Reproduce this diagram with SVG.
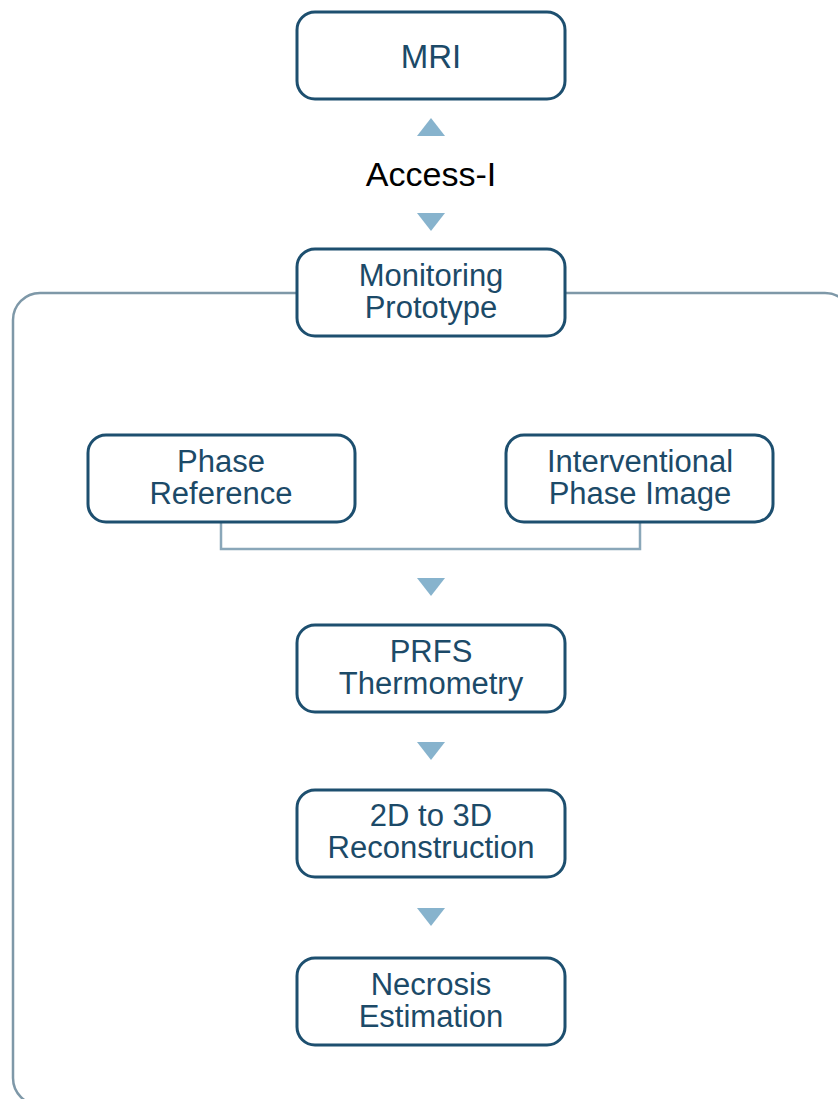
<svg xmlns="http://www.w3.org/2000/svg" width="838" height="1099" viewBox="0 0 838 1099">
<style>
.box{fill:#ffffff;stroke:#1d4f6f;stroke-width:3}
.lbl{font-family:"Liberation Sans",Arial,sans-serif;font-size:31px;fill:#1c4a68;text-anchor:middle}
.tri{fill:#87b3cd}
.conn{fill:none;stroke:#8aa7b9;stroke-width:2.5}
</style>
<rect id="container" x="13" y="293" width="839" height="812" rx="27" fill="none" stroke="#7e98a8" stroke-width="2.5"/>
<g id="connectors">
<path class="conn" d="M221,523 V549 H640 V523"/>
<polygon class="tri" points="417,136 445,136 431,118"/>
<polygon class="tri" points="417,213 445,213 431,231"/>
<polygon class="tri" points="417,578 445,578 431,596"/>
<polygon class="tri" points="417,742 445,742 431,760"/>
<polygon class="tri" points="417,908 445,908 431,926"/>
</g>
<g id="mri">
<rect class="box" x="297" y="12" width="268" height="87" rx="18"/>
<text class="lbl" x="431" y="68" style="font-size:33px">MRI</text>
</g>
<g id="access">
<text x="431" y="186" font-family="Liberation Sans,Arial,sans-serif" font-size="34" fill="#000" text-anchor="middle">Access-I</text>
</g>
<g id="monitoring">
<rect class="box" x="297" y="249" width="268" height="87" rx="18"/>
<text class="lbl" x="431" y="286">Monitoring</text>
<text class="lbl" x="431" y="318">Prototype</text>
</g>
<g id="phase-ref">
<rect class="box" x="88" y="435" width="267" height="87" rx="18"/>
<text class="lbl" x="221" y="472">Phase</text>
<text class="lbl" x="221" y="504">Reference</text>
</g>
<g id="interventional">
<rect class="box" x="506" y="435" width="267" height="87" rx="18"/>
<text class="lbl" x="640" y="472">Interventional</text>
<text class="lbl" x="640" y="504">Phase Image</text>
</g>
<g id="prfs">
<rect class="box" x="297" y="625" width="268" height="87" rx="18"/>
<text class="lbl" x="431" y="662">PRFS</text>
<text class="lbl" x="431" y="694">Thermometry</text>
</g>
<g id="recon">
<rect class="box" x="297" y="790" width="268" height="87" rx="18"/>
<text class="lbl" x="431" y="826">2D to 3D</text>
<text class="lbl" x="431" y="858">Reconstruction</text>
</g>
<g id="necrosis">
<rect class="box" x="297" y="958" width="268" height="87" rx="18"/>
<text class="lbl" x="431" y="995">Necrosis</text>
<text class="lbl" x="431" y="1027">Estimation</text>
</g>
</svg>
